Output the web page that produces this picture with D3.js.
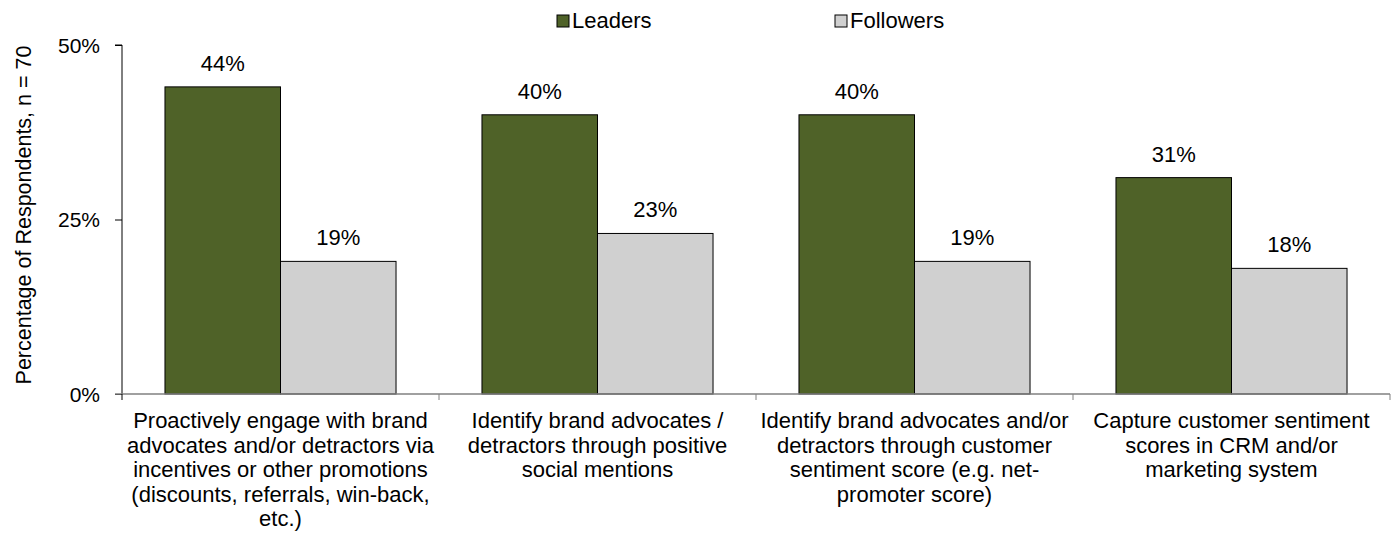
<!DOCTYPE html>
<html>
<head>
<meta charset="utf-8">
<script src="https://cdn.jsdelivr.net/npm/d3@7"></script>
<style>
  html, body { margin: 0; padding: 0; background: #fff; }
  svg { display: block; font-family: "Liberation Sans", Arial, sans-serif; }
</style>
</head>
<body>
<svg id="chart" width="1398" height="534"></svg>
<script>
// Survey categories (each label pre-wrapped into lines)
const categories = [
  ["Proactively engage with brand", "advocates and/or detractors via", "incentives or other promotions", "(discounts, referrals, win-back,", "etc.)"],
  ["Identify brand advocates /", "detractors through positive", "social mentions"],
  ["Identify brand advocates and/or", "detractors through customer", "sentiment score (e.g. net-", "promoter score)"],
  ["Capture customer sentiment", "scores in CRM and/or", "marketing system"]
];
const seriesNames = ["Leaders", "Followers"];
const leaders = [44, 40, 40, 31];
const followers = [19, 23, 19, 18];
const yTicks = [0, 25, 50];
const yTitle = "Percentage of Respondents, n = 70";

const colors = ["#4f6228", "#d0d0d0"];
const FS = 22;

const svg = d3.select("#chart");
const x0 = 122, x1 = 1390, yTop = 45, yBot = 394;

const x = d3.scaleBand().domain(d3.range(categories.length)).range([x0, x1]).paddingInner(0).paddingOuter(0);
const sub = d3.scaleBand().domain(seriesNames).range([0, x.bandwidth()]).paddingInner(0).paddingOuter(0.372);
const y = d3.scaleLinear().domain([0, 50]).range([yBot, yTop]);

const data = categories.map((c, i) => ({ i, vals: [leaders[i], followers[i]] }));

// Bars
const groups = svg.append("g").selectAll("g").data(data).join("g")
  .attr("transform", d => `translate(${x(d.i)},0)`);

groups.selectAll("rect").data(d => d.vals.map((v, k) => ({ v, k })))
  .join("rect")
  .attr("x", d => sub(seriesNames[d.k]))
  .attr("y", d => y(d.v))
  .attr("width", sub.bandwidth())
  .attr("height", d => y(0) - y(d.v))
  .attr("fill", d => colors[d.k])
  .attr("stroke", "#000")
  .attr("stroke-width", 1);

// Value labels
groups.selectAll("text.val").data(d => d.vals.map((v, k) => ({ v, k })))
  .join("text")
  .attr("class", "val")
  .attr("x", d => sub(seriesNames[d.k]) + sub.bandwidth() / 2)
  .attr("y", d => y(d.v) - 16)
  .attr("text-anchor", "middle")
  .attr("font-size", FS)
  .attr("fill", "#000")
  .text(d => d.v + "%");

// Y axis
const yAxis = d3.axisLeft(y).tickValues(yTicks).tickFormat(d => d + "%").tickSize(7).tickPadding(15);
const gy = svg.append("g").attr("transform", `translate(${x0},0)`).call(yAxis);
gy.select(".domain").attr("stroke", "#000").attr("d", `M-7,${yTop}H0V${yBot}`);
gy.selectAll(".tick line").attr("stroke", "#000");
gy.selectAll(".tick text").attr("font-size", 21).attr("fill", "#000")
  .attr("font-family", "Liberation Sans, Arial, sans-serif").attr("dy", "0.35em");

// X axis baseline and category separators
svg.append("line").attr("x1", x0 - 7).attr("x2", x1).attr("y1", yBot).attr("y2", yBot)
  .attr("stroke", "#808080").attr("stroke-width", 1.5);
svg.append("g").selectAll("line").data(d3.range(categories.length + 1))
  .join("line")
  .attr("x1", i => x0 + i * x.bandwidth()).attr("x2", i => x0 + i * x.bandwidth())
  .attr("y1", yBot).attr("y2", yBot + 6)
  .attr("stroke", i => i === 0 ? "#000" : "#808080");

// Category labels
const catG = svg.append("g").selectAll("text").data(categories).join("text")
  .attr("text-anchor", "middle")
  .attr("font-size", FS)
  .attr("fill", "#000");
catG.each(function (lines, i) {
  const t = d3.select(this);
  lines.forEach((ln, j) => {
    t.append("tspan")
      .attr("x", x(i) + x.bandwidth() / 2)
      .attr("y", 428 + j * 24.5)
      .text(ln);
  });
});

// Y title
svg.append("text")
  .attr("transform", `translate(31,215) rotate(-90)`)
  .attr("text-anchor", "middle")
  .attr("font-size", 21.5)
  .attr("fill", "#000")
  .text(yTitle);

// Legend
const legendX = [557, 835];
const leg = svg.append("g").selectAll("g").data(seriesNames).join("g")
  .attr("transform", (d, i) => `translate(${legendX[i]},0)`);
leg.append("rect").attr("x", 0).attr("y", 15).attr("width", 12).attr("height", 12)
  .attr("fill", (d, i) => colors[i]).attr("stroke", "#000").attr("stroke-width", 1);
leg.append("text").attr("x", 15).attr("y", 28).attr("font-size", FS).attr("fill", "#000").text(d => d);
</script>
</body>
</html>
